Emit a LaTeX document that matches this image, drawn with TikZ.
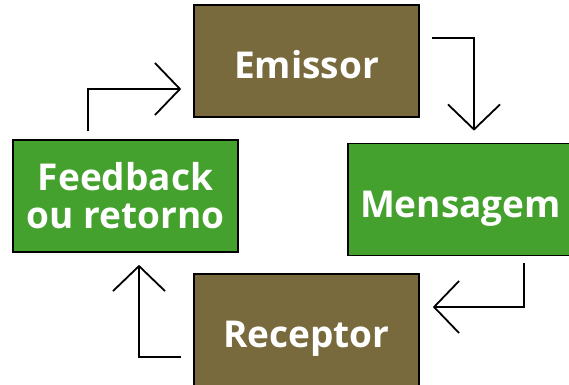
\documentclass[tikz,border=0pt]{standalone}
\usepackage{fontspec}
\setmainfont{Open Sans}
\usetikzlibrary{arrows.meta,calc}
\definecolor{boxbrown}{RGB}{121,106,62}
\definecolor{boxgreen}{RGB}{69,161,46}
\begin{document}
\begin{tikzpicture}[x=1pt,y=-1pt,
  stagebox/.style={draw=black, line width=1.6pt, minimum width=225pt,
    minimum height=112pt, inner sep=0pt, text=white, align=center,
    font=\bfseries\fontsize{37}{38}\selectfont},
  onelabel/.style={text height=35pt, text depth=0pt},
  flow/.style={line width=1.8pt, line join=miter,
    -{Straight Barb[length=25pt,width=52pt,line width=1.8pt]}}]
\useasboundingbox (0,0) rectangle (569,384);
\clip (0,0) rectangle (569,384);

% the four stages of the communication cycle
\node[stagebox, onelabel, fill=boxbrown] (emissor)  at (306.5,61)  {Emissor};
\node[stagebox, onelabel, fill=boxgreen] (mensagem) at (460.5,199.5) {Mensagem};
\node[stagebox, onelabel, fill=boxbrown] (receptor) at (306.5,330) {Receptor};
\node[stagebox, fill=boxgreen] (feedback) at (125.5,196) {Feedback\\ou retorno};

% elbow arrows running clockwise between the stages
\draw[flow] ($(emissor.north east)+(12,34)$) -| ($(mensagem.north)+(13.5,-12)$);
\draw[flow] ($(mensagem.south)+(63.5,7)$) |- ($(receptor.east)+(13,-23)$);
\draw[flow] ($(receptor.west)+(-12,27)$) -| ($(feedback.south)+(13.5,12)$);
\draw[flow] ($(feedback.north)+(-37.5,-8)$) |- ($(emissor.west)+(-12,28)$);
\end{tikzpicture}
\end{document}
